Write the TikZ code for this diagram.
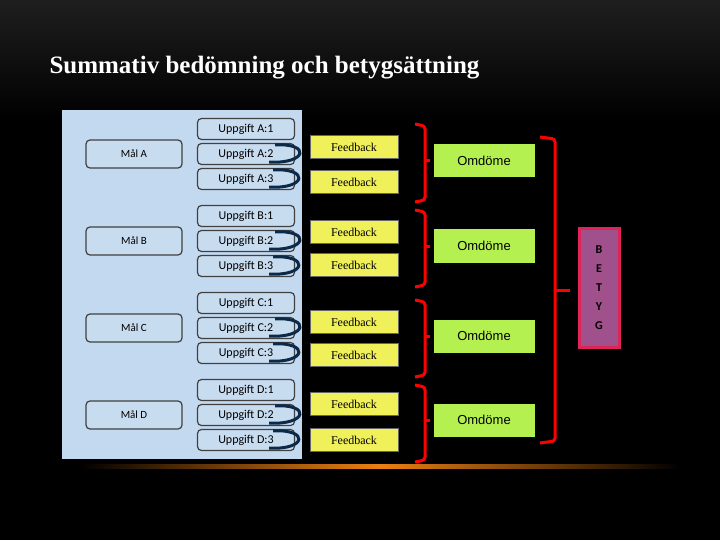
\documentclass[tikz,border=0pt]{standalone}
\usepackage{fontspec}
\newfontfamily\carfont{Carlito}
\newfontfamily\arsfont{Liberation Sans}
\newfontfamily\tmsfont{Liberation Serif}
\begin{document}
\begin{tikzpicture}[x=1pt,y=-1pt,
  mal/.style={draw=black!75,line width=1.2pt,rounded corners=4pt,minimum width=96pt,minimum height=28pt,font=\carfont\fontsize{11}{12}\selectfont,inner sep=0pt,fill=mycol},
  upp/.style={mal,minimum width=97pt,minimum height=21pt,font=\carfont\fontsize{12}{13}\selectfont},
  fb/.style={fill=fbcol,draw=black!60,minimum width=88pt,minimum height=23pt,inner sep=0pt,font=\tmsfont\fontsize{12}{13}\selectfont},
  om/.style={fill=omcol,minimum width=101pt,minimum height=33pt,inner sep=0pt,font=\arsfont\fontsize{13}{14}\selectfont},
  brace/.style={draw=red,line width=3pt,rounded corners=3pt},
  curl/.style={draw=navy,line width=3pt}]
\definecolor{mycol}{HTML}{C8DCF0}
\definecolor{panel}{HTML}{C3D9EF}
\definecolor{fbcol}{HTML}{F0F05A}
\definecolor{omcol}{HTML}{B4F050}
\definecolor{navy}{HTML}{0B2A4A}
\useasboundingbox (0,0) rectangle (720,540);
\fill[black] (0,0) rectangle (720,540);
\shade[top color=black!88, bottom color=black] (0,0) rectangle (720,120);
\node[text=white,font=\tmsfont\bfseries\fontsize{25}{30}\selectfont,anchor=west] (title) at (46,68) {Summativ bedömning och betygsättning};
\shade[left color=black, right color=black, middle color=orange!70!brown] (80,464) rectangle (680,468);
\fill[panel] (62,110) rectangle (302,459);
\foreach \g/\y in {A/154,B/241,C/328,D/415}{
  \node[mal] (m\g) at (134,\y) {Mål \g};
  \node[upp] (u\g1) at (246,\y-25) {Uppgift \g:1};
  \node[upp] (u\g2) at (246,\y) {Uppgift \g:2};
  \node[upp] (u\g3) at (246,\y+25) {Uppgift \g:3};
  \draw[curl] ([xshift=-20pt,yshift=-2pt]u\g2.north east) .. controls +(36,-2) and +(38,2) .. ([xshift=-26pt,yshift=3pt]u\g2.south east);
  \draw[curl] ([xshift=-22pt,yshift=-2pt]u\g3.north east) .. controls +(36,-2) and +(38,2) .. ([xshift=-26pt,yshift=3pt]u\g3.south east);
}
\foreach \n/\y in {1/147,2/182,3/232,4/265,5/322,6/355,7/404,8/440}{
  \node[fb] (f\n) at (354,\y) {Feedback};
}
\foreach \n/\y/\t/\b in {1/161/124/202,2/246/210/287,3/336/300/377,4/420/385/462}{
  \node[om] (o\n) at (484,\y) {Omdöme};
  \draw[brace] (415,\t) -- (425,\t+2) -- (425,\b-2) -- (415,\b);
  \draw[red,line width=3pt] (424,\y) -- (430,\y);
}
\draw[brace] (540,137) -- (555,139) -- (555,441) -- (540,443);
\draw[red,line width=3pt] (554,290) -- (570,290);
\node[draw={rgb,255:red,224;green,36;blue,90},line width=3pt,fill={rgb,255:red,160;green,80;blue,138},minimum width=40pt,minimum height=119pt,inner sep=0pt,align=center,font=\carfont\bfseries\fontsize{12}{19}\selectfont] (betyg) at (599,288) {B\\E\\T\\Y\\G};
\end{tikzpicture}
\end{document}
